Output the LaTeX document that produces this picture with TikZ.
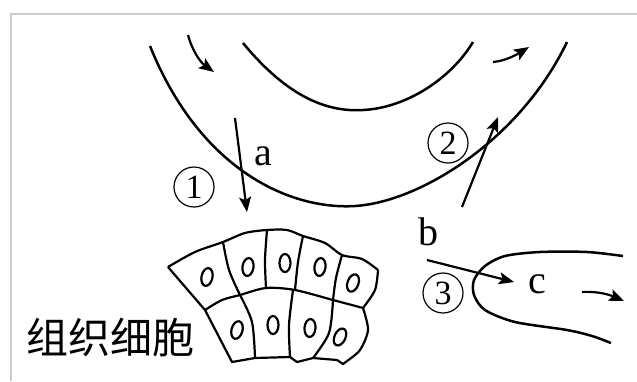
\documentclass[tikz,border=0pt]{standalone}
\usepackage{fontspec}
\setmainfont{Liberation Serif}
\newfontfamily\cjk{Noto Sans CJK SC}
\usetikzlibrary{shapes.geometric}
\usetikzlibrary{arrows.meta}

\tikzset{
  wall/.style={line width=1.25pt},
  flow/.style={line width=1.1pt,-{Stealth[length=7.5pt,width=6pt,inset=1.5pt]}},
  cellwall/.style={line width=1.1pt,line join=round},
  nucleus/.style={draw,ellipse,line width=1.1pt,minimum width=5.5pt,minimum height=9pt,inner sep=0pt},
  circnum/.style={draw,circle,line width=0.6pt,minimum size=20pt,inner sep=0pt,font=\fontsize{17}{17}\selectfont},
  lbl/.style={font=\fontsize{20}{20}\selectfont}
}

\begin{document}
\begin{tikzpicture}[x=0.5pt,y=-0.5pt]
  \useasboundingbox (0,0) rectangle (637,381);
  \draw[gray!40,line width=1pt] (637,13.5) -- (11,13.5) -- (11,381);

  % capillary walls
  \draw[wall] (150,46) .. controls (200,170) and (290,210) .. (355,206)
    .. controls (420,202) and (520,140) .. (567,42);
  \draw[wall] (243,43) .. controls (290,100) and (330,112) .. (363,110)
    .. controls (405,108) and (450,80) .. (473,42);

  % lymph vessel, blind end
  \draw[wall] plot[smooth] coordinates {(623,256) (587,252) (540,252) (505,256) (485,266) (474,280) (474,295) (485,310) (515,322) (567,330) (592,336) (611,343)};

  % blood and lymph flow
  \coordinate (in1) at (188,35);  \coordinate (in2) at (214,72);
  \coordinate (out1) at (493,62); \coordinate (out2) at (529,47);
  \coordinate (ly1) at (582,292); \coordinate (ly2) at (624,301);
  \draw[flow] (in1) .. controls (192,50) and (200,62) .. (in2);
  \draw[flow] (out1) .. controls (505,61) and (516,55) .. (out2);
  \draw[flow] (ly1) .. controls (598,291) and (610,295) .. (ly2);

  % exchange a, b
  \coordinate (as) at (235,118); \coordinate (ae) at (247,212);
  \coordinate (rs) at (462,207); \coordinate (re) at (498,117);
  \coordinate (bs) at (427,260); \coordinate (be) at (514,282);
  \draw[flow] (as) -- (ae);
  \draw[flow] (rs) -- (re);
  \draw[flow] (bs) -- (be);

  \node[lbl] (la) at (263,156) {a};
  \node[lbl] (lb) at (428,232) {b};
  \node[lbl] (lc) at (537,284) {c};
  \node[circnum] (n1) at (194,187) {1};
  \node[circnum] (n2) at (448,143) {2};
  \node[circnum] (n3) at (443,293) {3};

  % tissue cells
  \draw[cellwall] plot[smooth] coordinates {(168,267) (195,252) (223,242) (245,233) (267,230) (287,230) (303,236) (325,243) (342,255) (362,259) (378,270)}
    plot[smooth] coordinates {(378,270) (375,290) (363,308)};
  \draw[cellwall] plot[smooth] coordinates {(205,310) (222,300) (240,295) (266,288) (295,290) (333,300) (363,308)};
  \draw[cellwall] (168,267) -- (205,310) -- (232,362) -- (255,358) -- (290,357)
    -- (297,362) -- (313,358) -- (337,360) -- (343,364) -- (347,361);
  \draw[cellwall] plot[smooth] coordinates {(363,308) (368,330) (360,350) (347,361)};
  \draw[cellwall] plot[smooth] coordinates {(223,242) (229,270) (240,295)};
  \draw[cellwall] plot[smooth] coordinates {(267,230) (265,260) (266,288)};
  \draw[cellwall] plot[smooth] coordinates {(303,236) (298,262) (295,290)};
  \draw[cellwall] plot[smooth] coordinates {(342,255) (336,278) (333,300)};
  \draw[cellwall] plot[smooth] coordinates {(240,295) (252,322) (255,358)};
  \draw[cellwall] plot[smooth] coordinates {(293,290) (289,325) (290,357)};
  \draw[cellwall] plot[smooth] coordinates {(333,300) (329,333) (313,358)};

  \node[nucleus,rotate=-12] (c1) at (207,277) {};
  \node[nucleus,rotate=-8]  (c2) at (248,267) {};
  \node[nucleus]            (c3) at (285,263) {};
  \node[nucleus,rotate=-8]  (c4) at (320,267) {};
  \node[nucleus,rotate=-20] (c5) at (353,283) {};
  \node[nucleus,rotate=-15] (c6) at (237,330) {};
  \node[nucleus]            (c7) at (273,325) {};
  \node[nucleus,rotate=-5]  (c8) at (310,328) {};
  \node[nucleus,rotate=-25] (c9) at (340,337) {};

  \node[font=\cjk\fontsize{21}{21}\selectfont] (tissue) at (110,338) {组织细胞};
\end{tikzpicture}
\end{document}
